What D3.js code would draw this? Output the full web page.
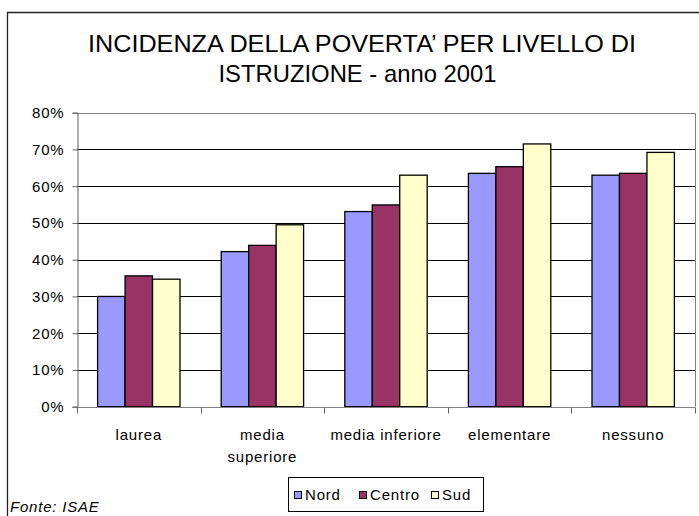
<!DOCTYPE html>
<html lang="it">
  <head>
    <meta charset="UTF-8" />
    <title>Incidenza della povertà per livello di istruzione</title>
    <script src="https://d3js.org/d3.v7.min.js"></script>
    <style>
      body {
        margin: 0;
        background: #fff;
        font-family: "Liberation Sans", Arial, sans-serif;
      }
      svg {
        display: block;
      }
      .small {
        font-size: 15px;
        letter-spacing: 0.8px;
        fill: #000;
      }
    </style>
  </head>
  <body>
    <svg id="chart" width="699" height="516"></svg>
    <script>
      // data
      const categories = ["laurea", "media superiore", "media inferiore", "elementare", "nessuno"];
      const categoryLines = [["laurea"], ["media", "superiore"], ["media inferiore"], ["elementare"], ["nessuno"]];
      const series = ["Nord", "Centro", "Sud"];
      const nord = [30.0, 42.2, 53.1, 63.5, 63.0];
      const centro = [35.6, 43.9, 54.9, 65.3, 63.5];
      const sud = [34.7, 49.5, 63.0, 71.5, 69.2];
      const yTicks = [0, 10, 20, 30, 40, 50, 60, 70, 80];
      const colors = ["#9999ff", "#993366", "#ffffcc"];

      const values = [nord, centro, sud];

      const svg = d3.select("#chart");
      const plot = { left: 77, right: 695, top: 112.7, bottom: 406.7 };

      // outer frame (runs off the right and bottom edges)
      svg.append("path")
        .attr("d", "M7.5,520 V12.5 H705")
        .attr("fill", "none")
        .attr("stroke", "#222")
        .attr("stroke-width", 1.3);

      // title
      const title = svg.append("g")
        .attr("font-size", 24)
        .attr("text-anchor", "middle");
      title.append("text")
        .attr("x", 362).attr("y", 52)
        .attr("textLength", 548).attr("lengthAdjust", "spacingAndGlyphs")
        .text("INCIDENZA DELLA POVERTA’ PER LIVELLO DI");
      title.append("text")
        .attr("x", 357.5).attr("y", 82)
        .attr("textLength", 278).attr("lengthAdjust", "spacingAndGlyphs")
        .text("ISTRUZIONE - anno 2001");

      const x0 = d3.scaleBand().domain(categories).range([plot.left, plot.right]);
      const bw = x0.bandwidth();
      const barW = bw / (series.length + 1.5);
      const x1 = d3.scaleBand().domain(series)
        .range([barW * 0.75, bw - barW * 0.75]);
      const y = d3.scaleLinear().domain([0, 80]).range([plot.bottom, plot.top]);

      // gridlines
      svg.append("g")
        .selectAll("line")
        .data(yTicks.filter((d) => d > 0 && d < 80))
        .join("line")
        .attr("x1", plot.left).attr("x2", plot.right)
        .attr("y1", (d) => Math.round(y(d)) + 0.5)
        .attr("y2", (d) => Math.round(y(d)) + 0.5)
        .attr("stroke", "#000");

      // plot area border top/right
      svg.append("path")
        .attr("d", `M${plot.left},${Math.round(plot.top) + 0.5} H${plot.right + 0.5} V${plot.bottom}`)
        .attr("fill", "none")
        .attr("stroke", "#808080");

      // bars
      const groups = svg.append("g")
        .selectAll("g")
        .data(categories)
        .join("g")
        .attr("transform", (d) => `translate(${x0(d)},0)`);

      groups.selectAll("rect")
        .data((c, i) => series.map((s, j) => ({ s, v: values[j][i], j })))
        .join("rect")
        .attr("x", (d) => x1(d.s))
        .attr("y", (d) => y(d.v))
        .attr("width", x1.bandwidth())
        .attr("height", (d) => plot.bottom - y(d.v))
        .attr("fill", (d) => colors[d.j])
        .attr("stroke", "#000")
        .attr("stroke-width", 1.3);

      // y axis
      const yAxis = svg.append("g")
        .attr("transform", `translate(${plot.left + 0.5},0)`)
        .call(d3.axisLeft(y).tickValues(yTicks).tickSize(5).tickPadding(8)
          .tickFormat((d) => d + "%"));
      yAxis.select(".domain").attr("stroke", "#606060");
      yAxis.selectAll(".tick line").attr("stroke", "#606060");
      yAxis.selectAll("text")
        .attr("class", "small")
        .attr("font-family", null).attr("font-size", null);

      // x axis
      const xAxis = svg.append("g")
        .attr("transform", `translate(0,${Math.round(plot.bottom) + 0.5})`);
      xAxis.append("line")
        .attr("x1", plot.left).attr("x2", plot.right)
        .attr("stroke", "#808080");
      xAxis.selectAll(".sep")
        .data(categories.concat(["end"]))
        .join("line")
        .attr("class", "sep")
        .attr("x1", (d, i) => Math.round(i < categories.length ? x0(d) : plot.right) + 0.5)
        .attr("x2", (d, i) => Math.round(i < categories.length ? x0(d) : plot.right) + 0.5)
        .attr("y1", 0).attr("y2", 6)
        .attr("stroke", "#606060");

      const labels = svg.append("g")
        .selectAll("text")
        .data(categories)
        .join("text")
        .attr("class", "small")
        .attr("text-anchor", "middle")
        .attr("x", (d) => x0(d) + bw / 2)
        .attr("y", 440);
      labels.selectAll("tspan")
        .data((d, i) => categoryLines[i])
        .join("tspan")
        .attr("x", function () { return this.parentNode.getAttribute("x"); })
        .attr("dy", (d, i) => (i === 0 ? 0 : 21.5))
        .text((d) => d);

      // legend
      const legend = svg.append("g");
      legend.append("rect")
        .attr("x", 288.5).attr("y", 477.5)
        .attr("width", 195).attr("height", 34)
        .attr("fill", "#fff").attr("stroke", "#000");
      const legendX = [294, 359, 431];
      const item = legend.selectAll(".item")
        .data(series)
        .join("g")
        .attr("class", "item")
        .attr("transform", (d, i) => `translate(${legendX[i]},0)`);
      item.append("rect")
        .attr("x", 0.5).attr("y", 491.5)
        .attr("width", 7).attr("height", 7)
        .attr("fill", (d, i) => colors[i])
        .attr("stroke", "#000");
      item.append("text")
        .attr("class", "small")
        .attr("x", 11).attr("y", 500)
        .text((d) => d);

      // source note
      svg.append("text")
        .attr("class", "small")
        .attr("x", 10).attr("y", 512)
        .attr("font-style", "italic")
        .text("Fonte: ISAE");
    </script>
  </body>
</html>
